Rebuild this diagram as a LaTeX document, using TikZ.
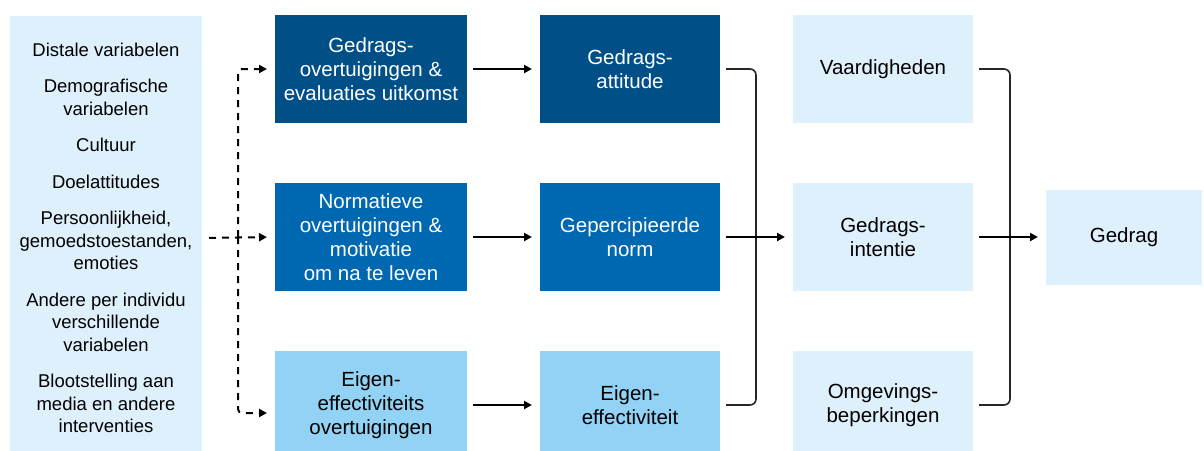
\documentclass[tikz,border=0pt]{standalone}
\usepackage{fontspec}
\setmainfont{Liberation Sans}
\usetikzlibrary{arrows.meta,positioning}
\definecolor{dkblue}{RGB}{0,80,135}
\definecolor{mdblue}{RGB}{0,103,177}
\definecolor{ltblue}{RGB}{146,210,244}
\definecolor{paleblue}{RGB}{222,240,252}

\begin{document}
\begin{tikzpicture}[x=1pt, y=-1pt,
  box/.style={fill=#1, align=center, inner sep=4pt, outer sep=0pt,
              minimum width=192pt, minimum height=108pt,
              font=\fontsize{20.5}{24}\selectfont},
  dark/.style={box=#1, text=white},
  smallbox/.style={box=#1, minimum width=180pt},
  arrow/.style={-{Triangle[length=8pt, width=8pt]}, line width=2pt,
                shorten <=6pt, shorten >=8pt},
  dasharrow/.style={arrow, dash pattern=on 7pt off 6pt, rounded corners=4pt},
  bracket/.style={line width=1.6pt, draw=black!85, rounded corners=6pt,
                  shorten <=6pt, shorten >=6pt}]
  \useasboundingbox (0,0) rectangle (1204,450);
  % left column
  \node[box=paleblue, minimum height=444pt, font=\fontsize{18.5}{22.5}\selectfont]
    (distal) at (106,238) {Distale variabelen\\[14pt]Demografische\\variabelen\\[14pt]Cultuur\\[14pt]Doelattitudes\\[14pt]Persoonlijkheid,\\gemoedstoestanden,\\emoties\\[14pt]Andere per individu\\verschillende\\variabelen\\[14pt]Blootstelling aan\\media en andere\\interventies};
  % beliefs
  \node[dark=dkblue, anchor=north west, text depth=0pt] (beliefs) at (275,15) {Gedrags-\\overtuigingen \&\\evaluaties uitkomst};
  \node[dark=mdblue, below=60pt of beliefs] (normbeliefs) {Normatieve\\overtuigingen \&\\motivatie\\om na te leven};
  \node[box=ltblue, below=60pt of normbeliefs] (efficacybeliefs) {Eigen-\\effectiviteits\\overtuigingen};
  % attitudes
  \node[dark=dkblue, minimum width=180pt, right=73pt of beliefs] (attitude) {Gedrags-\\attitude};
  \node[dark=mdblue, minimum width=180pt, right=73pt of normbeliefs] (norm) {Gepercipieerde\\norm};
  \node[smallbox=ltblue, right=73pt of efficacybeliefs] (efficacy) {Eigen-\\effectiviteit};
  % intention
  \node[smallbox=paleblue, right=73pt of attitude] (skills) {Vaardigheden};
  \node[smallbox=paleblue, right=73pt of norm] (intention) {Gedrags-\\intentie};
  \node[smallbox=paleblue, right=73pt of efficacy] (constraints) {Omgevings-\\beperkingen};
  \node[box=paleblue, minimum width=156pt, minimum height=95pt, right=73pt of intention] (behaviour) {Gedrag};

  % dashed split
  \coordinate (split) at ([xshift=-37pt]normbeliefs.west);
  \coordinate (efficacyin) at ([yshift=-8pt]efficacybeliefs.west);
  \draw[dasharrow, shorten <=7pt] (distal.east) -- (normbeliefs.west);
  \draw[dasharrow, shorten <=0pt] (split) |- (beliefs.west);
  \draw[dasharrow, shorten <=0pt] (split) |- (efficacyin);

  \draw[arrow] (beliefs) -- (attitude);
  \draw[arrow] (normbeliefs) -- (norm);
  \draw[arrow] (efficacybeliefs) -- (efficacy);

  \draw[bracket] (attitude.east) -- ++(36,0) |- (efficacy.east);
  \draw[arrow] (norm) -- (intention);
  \draw[bracket] (skills.east) -- ++(37,0) |- (constraints.east);
  \draw[arrow] (intention) -- (behaviour);
\end{tikzpicture}
\end{document}
